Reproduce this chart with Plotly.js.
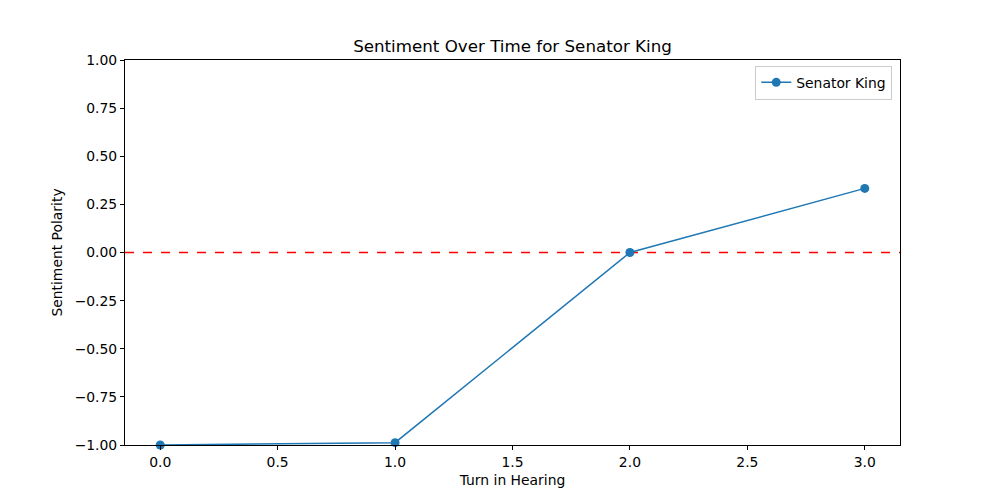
<!DOCTYPE html>
<html>
<head>
<meta charset="utf-8">
<script src="https://cdn.plot.ly/plotly-3.0.1.min.js"></script>
<style>html,body{margin:0;padding:0;background:#fff;}#chart{width:1000px;height:500px;}</style>
</head>
<body>
<div id="chart"></div>
<script>
const turns = [0, 1, 2, 3];
const polarity = [-1.0, -0.988, 0.0, 0.333];
const seriesName = "Senator King";
const xTicks = [0, 0.5, 1, 1.5, 2, 2.5, 3];
const xTickText = ["0.0", "0.5", "1.0", "1.5", "2.0", "2.5", "3.0"];
const yTicks = [-1, -0.75, -0.5, -0.25, 0, 0.25, 0.5, 0.75, 1];
const yTickText = ["\u22121.00", "\u22120.75", "\u22120.50", "\u22120.25", "0.00", "0.25", "0.50", "0.75", "1.00"];
const refY = 0;

const font = {family: "DejaVu Sans", size: 13.9, color: "#000"};
const data = [{
  x: turns, y: polarity, name: seriesName, type: "scatter", mode: "lines+markers",
  line: {color: "#1f77b4", width: 1.5},
  marker: {color: "#1f77b4", size: 9},
  cliponaxis: false
}];
const layout = {
  width: 1000, height: 500,
  margin: {l: 125, r: 100, t: 60, b: 55},
  paper_bgcolor: "#fff", plot_bgcolor: "#fff",
  font: font,
  showlegend: true,
  title: {text: "Sentiment Over Time for Senator King", font: {family: "DejaVu Sans", size: 16.7, color: "#000"}, x: 0.5125, xanchor: "center", y: 0.908, yanchor: "middle"},
  xaxis: {
    range: [-0.15, 3.15], tickvals: xTicks, ticktext: xTickText,
    showgrid: false, zeroline: false, showline: true, linecolor: "#000", linewidth: 1, mirror: true,
    ticks: "outside", ticklen: 4, tickcolor: "#000",
    title: {text: "Turn in Hearing", font: font, standoff: 6}
  },
  yaxis: {
    range: [-1, 1], tickvals: yTicks, ticktext: yTickText,
    showgrid: false, zeroline: false, showline: true, linecolor: "#000", linewidth: 1, mirror: true,
    ticks: "outside", ticklen: 4, tickcolor: "#000",
    title: {text: "Sentiment Polarity", font: font, standoff: 8}
  },
  shapes: [{type: "line", xref: "paper", x0: 0, x1: 1, yref: "y", y0: refY, y1: refY,
    line: {color: "red", width: 1.5, dash: "dash"}, layer: "below"}],
  legend: {x: 0.99, xanchor: "right", y: 0.985, yanchor: "top", bgcolor: "#fff",
    bordercolor: "#ccc", borderwidth: 1, font: {family: "DejaVu Sans", size: 13.9, color: "#000"}}
};
Plotly.newPlot("chart", data, layout, {staticPlot: true, displayModeBar: false});
</script>
</body>
</html>
